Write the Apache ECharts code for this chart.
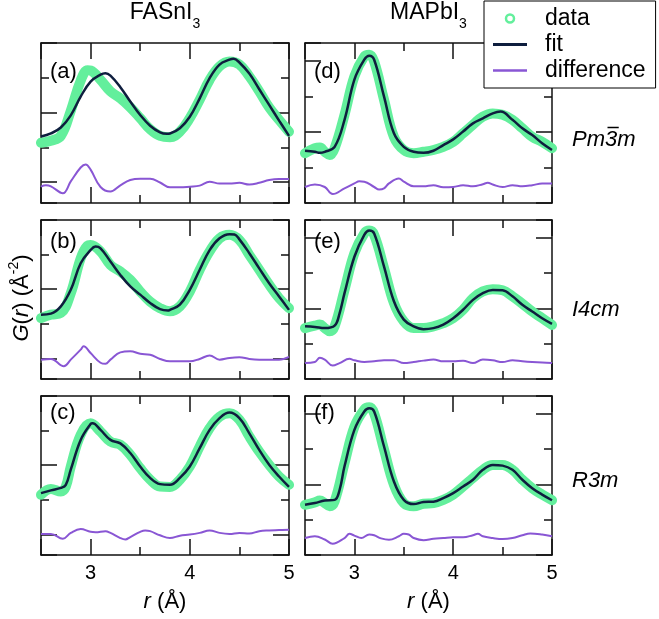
<!DOCTYPE html>
<html>
<head>
<meta charset="utf-8">
<script src="https://cdn.jsdelivr.net/npm/echarts@6.0.0/dist/echarts.min.js"></script>
<style>
html, body { margin: 0; padding: 0; background: #fff; }
#main { width: 659px; height: 619px; }
</style>
</head>
<body>
<div id="main"></div>
<script>
// G(r) curves, [r, G] pairs (arbitrary G units, 1 unit = one minor tick)
// FASnI3, Pm-3m
const dataA = [[2.5,1.13],[2.6,1.19],[2.7,1.33],[2.8,2.05],[2.9,2.92],[2.97,3.22],[3.0,3.21],[3.1,2.94],[3.2,2.61],[3.3,2.41],[3.4,2.15],[3.5,1.84],[3.6,1.52],[3.7,1.33],[3.8,1.29],[3.9,1.45],[4.0,1.84],[4.1,2.37],[4.2,2.94],[4.3,3.33],[4.4,3.47],[4.5,3.38],[4.6,3.04],[4.7,2.61],[4.8,2.15],[4.9,1.79],[5.0,1.45]];
const fitA = [[2.5,1.31],[2.6,1.40],[2.7,1.57],[2.8,1.92],[2.9,2.46],[3.0,2.89],[3.1,3.09],[3.15,3.13],[3.2,3.06],[3.3,2.73],[3.4,2.32],[3.5,1.93],[3.6,1.62],[3.7,1.43],[3.77,1.39],[3.8,1.40],[3.9,1.55],[4.0,1.88],[4.1,2.41],[4.2,2.99],[4.3,3.38],[4.4,3.52],[4.44,3.55],[4.5,3.44],[4.6,3.12],[4.7,2.67],[4.8,2.22],[4.9,1.77],[5.0,1.33]];
const diffA = [[2.5,-0.13],[2.55,-0.09],[2.6,-0.12],[2.72,-0.32],[2.8,0.02],[2.9,0.42],[2.95,0.51],[3.0,0.36],[3.1,-0.14],[3.2,-0.27],[3.3,-0.09],[3.4,0.06],[3.5,0.10],[3.6,0.10],[3.7,-0.01],[3.8,-0.15],[3.9,-0.15],[4.0,-0.13],[4.1,-0.10],[4.2,0.01],[4.3,-0.04],[4.4,-0.04],[4.5,-0.02],[4.6,-0.07],[4.7,-0.02],[4.8,0.06],[4.9,0.09],[5.0,0.09]];
// FASnI3, I4cm
const dataB = [[2.5,1.16],[2.6,1.26],[2.7,1.31],[2.8,1.88],[2.9,2.89],[2.97,3.26],[3.0,3.28],[3.1,3.09],[3.2,2.70],[3.3,2.51],[3.4,2.27],[3.5,1.93],[3.6,1.64],[3.7,1.45],[3.8,1.36],[3.9,1.50],[4.0,1.93],[4.1,2.56],[4.2,3.09],[4.3,3.47],[4.4,3.57],[4.5,3.42],[4.6,2.99],[4.7,2.56],[4.8,2.13],[4.9,1.74],[5.0,1.45]];
const fitB = [[2.5,1.26],[2.6,1.29],[2.7,1.50],[2.8,1.98],[2.9,2.75],[3.0,3.13],[3.05,3.23],[3.1,3.18],[3.2,2.80],[3.3,2.41],[3.4,2.08],[3.5,1.84],[3.6,1.60],[3.7,1.42],[3.78,1.38],[3.8,1.40],[3.9,1.55],[4.0,1.98],[4.1,2.56],[4.2,3.13],[4.3,3.47],[4.4,3.59],[4.45,3.58],[4.5,3.44],[4.6,3.04],[4.7,2.60],[4.8,2.17],[4.9,1.79],[5.0,1.40]];
const diffB = [[2.5,-0.04],[2.6,-0.02],[2.73,-0.23],[2.8,-0.04],[2.9,0.25],[2.93,0.35],[3.0,0.15],[3.1,-0.13],[3.15,-0.16],[3.2,-0.04],[3.3,0.17],[3.4,0.20],[3.5,0.13],[3.6,0.10],[3.7,-0.02],[3.8,-0.09],[3.9,-0.09],[4.0,-0.09],[4.1,-0.02],[4.2,0.08],[4.3,-0.04],[4.4,0.01],[4.5,0.03],[4.6,-0.02],[4.7,-0.04],[4.8,-0.04],[4.9,-0.04],[5.0,0.04]];
// FASnI3, R3m
const dataC = [[2.5,1.14],[2.6,1.31],[2.7,1.24],[2.75,1.38],[2.8,1.96],[2.9,2.88],[3.0,3.21],[3.1,2.97],[3.2,2.68],[3.3,2.59],[3.4,2.30],[3.5,1.91],[3.6,1.58],[3.7,1.38],[3.8,1.37],[3.9,1.58],[4.0,1.96],[4.1,2.54],[4.2,3.07],[4.3,3.40],[4.4,3.50],[4.5,3.31],[4.6,2.83],[4.7,2.39],[4.8,2.01],[4.9,1.67],[5.0,1.43]];
const fitC = [[2.5,1.19],[2.6,1.27],[2.7,1.34],[2.75,1.43],[2.8,1.87],[2.9,2.73],[3.0,3.19],[3.02,3.21],[3.1,3.02],[3.2,2.73],[3.3,2.63],[3.4,2.35],[3.5,1.96],[3.6,1.63],[3.7,1.45],[3.8,1.43],[3.9,1.63],[4.0,1.96],[4.1,2.49],[4.2,3.02],[4.3,3.36],[4.4,3.52],[4.5,3.36],[4.6,2.92],[4.7,2.44],[4.8,2.01],[4.9,1.67],[5.0,1.37]];
const diffC = [[2.5,0.01],[2.6,0.01],[2.72,-0.13],[2.8,0.04],[2.9,0.15],[3.0,0.07],[3.05,0.06],[3.15,0.09],[3.2,0.04],[3.3,-0.11],[3.35,-0.15],[3.4,-0.08],[3.5,0.07],[3.55,0.11],[3.6,0.09],[3.7,-0.03],[3.8,-0.11],[3.9,-0.04],[4.0,-0.01],[4.1,0.04],[4.2,0.11],[4.3,0.04],[4.4,0.01],[4.5,0.04],[4.6,0.02],[4.7,0.09],[4.8,0.11],[4.9,0.12],[5.0,0.13]];
// MAPbI3, Pm-3m
const dataD = [[2.5,1.40],[2.6,1.54],[2.65,1.56],[2.7,1.44],[2.75,1.35],[2.8,1.54],[2.9,2.48],[3.0,3.56],[3.1,4.12],[3.15,4.17],[3.2,3.98],[3.3,2.90],[3.4,1.86],[3.5,1.49],[3.6,1.40],[3.7,1.44],[3.8,1.49],[3.9,1.58],[4.0,1.72],[4.1,1.96],[4.2,2.20],[4.3,2.43],[4.4,2.52],[4.5,2.48],[4.6,2.34],[4.7,2.10],[4.8,1.86],[4.9,1.72],[5.0,1.54]];
const fitD = [[2.5,1.47],[2.6,1.44],[2.65,1.41],[2.7,1.44],[2.8,1.58],[2.9,2.34],[3.0,3.47],[3.1,4.03],[3.15,4.14],[3.2,4.03],[3.3,2.99],[3.4,1.96],[3.5,1.58],[3.6,1.44],[3.7,1.41],[3.8,1.47],[3.9,1.63],[4.0,1.79],[4.1,2.01],[4.2,2.24],[4.3,2.38],[4.4,2.52],[4.48,2.57],[4.6,2.34],[4.7,2.10],[4.8,1.91],[4.9,1.68],[5.0,1.49]];
const diffD = [[2.5,0.45],[2.6,0.52],[2.7,0.45],[2.78,0.25],[2.9,0.41],[3.0,0.55],[3.05,0.61],[3.1,0.60],[3.2,0.45],[3.25,0.38],[3.3,0.41],[3.35,0.55],[3.45,0.69],[3.5,0.60],[3.6,0.47],[3.7,0.47],[3.8,0.50],[3.9,0.44],[4.0,0.45],[4.1,0.50],[4.2,0.47],[4.3,0.53],[4.35,0.57],[4.4,0.52],[4.5,0.45],[4.6,0.50],[4.7,0.47],[4.8,0.50],[4.9,0.55],[5.0,0.55]];
// MAPbI3, I4cm
const dataE = [[2.5,1.44],[2.6,1.51],[2.65,1.54],[2.7,1.44],[2.75,1.35],[2.8,1.49],[2.9,2.52],[3.0,3.56],[3.1,4.12],[3.15,4.20],[3.2,4.08],[3.3,3.14],[3.4,2.15],[3.5,1.63],[3.6,1.44],[3.7,1.44],[3.8,1.49],[3.9,1.58],[4.0,1.72],[4.1,1.96],[4.2,2.29],[4.3,2.48],[4.4,2.54],[4.5,2.51],[4.6,2.34],[4.7,2.13],[4.8,1.91],[4.9,1.72],[5.0,1.53]];
const fitE = [[2.5,1.49],[2.6,1.47],[2.7,1.44],[2.8,1.51],[2.85,1.86],[2.9,2.43],[3.0,3.46],[3.1,4.08],[3.15,4.20],[3.2,4.12],[3.3,3.18],[3.4,2.20],[3.5,1.68],[3.6,1.49],[3.7,1.41],[3.8,1.44],[3.9,1.54],[4.0,1.72],[4.1,1.96],[4.2,2.24],[4.3,2.43],[4.4,2.52],[4.5,2.51],[4.6,2.34],[4.7,2.10],[4.8,1.91],[4.9,1.72],[5.0,1.56]];
const diffE = [[2.5,0.45],[2.6,0.48],[2.65,0.60],[2.7,0.55],[2.78,0.38],[2.85,0.45],[2.95,0.57],[3.0,0.53],[3.1,0.48],[3.2,0.50],[3.3,0.53],[3.4,0.53],[3.5,0.45],[3.6,0.48],[3.7,0.52],[3.8,0.55],[3.9,0.50],[4.0,0.50],[4.1,0.52],[4.2,0.45],[4.3,0.55],[4.4,0.53],[4.5,0.48],[4.6,0.53],[4.7,0.50],[4.8,0.48],[4.9,0.47],[5.0,0.45]];
// MAPbI3, R3m
const dataF = [[2.5,1.42],[2.6,1.49],[2.65,1.54],[2.7,1.47],[2.75,1.38],[2.8,1.52],[2.9,2.60],[3.0,3.63],[3.1,4.12],[3.15,4.18],[3.2,4.01],[3.3,2.98],[3.4,1.99],[3.5,1.47],[3.6,1.38],[3.7,1.45],[3.8,1.47],[3.9,1.56],[4.0,1.71],[4.1,1.94],[4.2,2.18],[4.3,2.41],[4.4,2.55],[4.5,2.55],[4.6,2.41],[4.7,2.13],[4.8,1.89],[4.9,1.71],[5.0,1.55]];
const fitF = [[2.5,1.42],[2.6,1.47],[2.7,1.54],[2.8,1.56],[2.85,1.84],[2.9,2.51],[3.0,3.54],[3.1,4.06],[3.15,4.15],[3.2,4.06],[3.3,3.07],[3.4,2.08],[3.5,1.56],[3.6,1.44],[3.7,1.50],[3.8,1.51],[3.9,1.61],[4.0,1.75],[4.1,1.94],[4.2,2.13],[4.3,2.41],[4.4,2.55],[4.5,2.53],[4.6,2.41],[4.7,2.13],[4.8,1.89],[4.9,1.71],[5.0,1.55]];
const diffF = [[2.5,0.48],[2.6,0.53],[2.7,0.44],[2.78,0.32],[2.9,0.48],[2.95,0.60],[3.0,0.55],[3.07,0.48],[3.15,0.58],[3.2,0.56],[3.27,0.47],[3.35,0.43],[3.45,0.53],[3.5,0.60],[3.55,0.58],[3.6,0.48],[3.7,0.42],[3.8,0.46],[3.9,0.48],[4.0,0.50],[4.1,0.50],[4.2,0.56],[4.25,0.60],[4.3,0.53],[4.4,0.48],[4.5,0.45],[4.6,0.48],[4.7,0.56],[4.78,0.61],[4.9,0.58],[5.0,0.53]];

const panelLetters = ['(a)', '(b)', '(c)', '(d)', '(e)', '(f)'];
const columnTitles = ['FASnI', 'MAPbI'];
const spaceGroups = ['Pm3m', 'I4cm', 'R3m'];
const rRange = [2.5, 5];
const gRange = [[-0.6, 4], [0, 4.5]];   // left column, right column

const FONT = '"Liberation Sans", Arial, Helvetica, sans-serif';
const INK = '#111';
const GREEN = '#63ef9c';
const NAVY = '#0e1e3e';
const PURPLE = '#8956d4';

const colLeft = [41, 305], colWidth = [248, 247];
const rowTop = [43, 220, 396], rowHeight = [160, 159, 159];
const letterY = [72, 242, 413];

const panels = [
  {col: 0, row: 0, data: dataA, fit: fitA, diff: diffA},
  {col: 0, row: 1, data: dataB, fit: fitB, diff: diffB},
  {col: 0, row: 2, data: dataC, fit: fitC, diff: diffC},
  {col: 1, row: 0, data: dataD, fit: fitD, diff: diffD},
  {col: 1, row: 1, data: dataE, fit: fitE, diff: diffE},
  {col: 1, row: 2, data: dataF, fit: fitF, diff: diffF},
];

const lineW = {color: INK, width: 1.5};
const grid = [], xAxis = [], yAxis = [], series = [];

panels.forEach((p, g) => {
  grid.push({left: colLeft[p.col], top: rowTop[p.row], width: colWidth[p.col], height: rowHeight[p.row]});
  ['bottom', 'top'].forEach(pos => {
    const labelled = pos === 'bottom' && p.row === 2;
    xAxis.push({
      type: 'value', gridIndex: g, position: pos,
      min: rRange[0], max: rRange[1], minInterval: 1, maxInterval: 1,
      axisLine: {show: true, onZero: false, lineStyle: lineW},
      axisTick: {show: true, inside: true, length: 16, lineStyle: lineW},
      minorTick: {show: true, splitNumber: 2, length: 8, lineStyle: lineW},
      splitLine: {show: false},
      axisLabel: {show: labelled, showMinLabel: false, margin: 8, fontSize: 20, color: '#000', fontFamily: FONT},
      name: labelled ? '{i|r} (Å)' : '',
      nameLocation: 'middle', nameGap: 36,
      nameTextStyle: {fontSize: 22, color: '#000', fontFamily: FONT,
        rich: {i: {fontStyle: 'italic', fontSize: 22, fontFamily: FONT, color: '#000'}}}
    });
  });
  ['left', 'right'].forEach(pos => {
    yAxis.push({
      type: 'value', gridIndex: g, position: pos,
      min: gRange[p.col][0], max: gRange[p.col][1], minInterval: 2, maxInterval: 2,
      axisLine: {show: true, onZero: false, lineStyle: lineW},
      axisTick: {show: true, inside: true, length: 16, lineStyle: lineW},
      minorTick: {show: true, splitNumber: 2, length: 8, lineStyle: lineW},
      splitLine: {show: false},
      axisLabel: {show: false}
    });
  });
  const common = {type: 'line', xAxisIndex: 2 * g, yAxisIndex: 2 * g, symbol: 'none', smooth: 0.4, animation: false};
  series.push(Object.assign({}, common, {name: 'data', data: p.data, clip: false, z: 2,
    itemStyle: {color: GREEN}, lineStyle: {color: GREEN, width: 10, cap: 'round', join: 'round'}}));
  series.push(Object.assign({}, common, {name: 'fit', data: p.fit, z: 3,
    itemStyle: {color: NAVY}, lineStyle: {color: NAVY, width: 2.5}}));
  series.push(Object.assign({}, common, {name: 'difference', data: p.diff, z: 3,
    itemStyle: {color: PURPLE}, lineStyle: {color: PURPLE, width: 2}}));
});

// measure italic text so the bar over the 3 in Pm3m sits on the digit
const ctx = document.createElement('canvas').getContext('2d');
ctx.font = 'italic 22px "Liberation Sans"';
const wPm = ctx.measureText('Pm').width;
const w3 = ctx.measureText('3').width;

const graphic = [];
columnTitles.forEach((t, c) => {
  graphic.push({
    type: 'text', x: colLeft[c] + colWidth[c] / 2, y: -5, z: 10,
    style: {
      text: '{m|' + t + '}{s|3}', align: 'center', verticalAlign: 'top',
      rich: {
        m: {fontSize: 23, lineHeight: 36, fontFamily: FONT, fill: '#000'},
        s: {fontSize: 14, lineHeight: 14, verticalAlign: 'bottom', fontFamily: FONT, fill: '#000'}
      }
    }
  });
});
panels.forEach((p, g) => {
  graphic.push({
    type: 'text', x: colLeft[p.col] + 9, y: letterY[p.row], z: 10,
    style: {text: panelLetters[g], fontSize: 22, fontFamily: FONT, fill: '#000', align: 'left', verticalAlign: 'middle'}
  });
});
const sgY = [140, 310, 481];
spaceGroups.forEach((t, i) => {
  graphic.push({
    type: 'text', x: 572, y: sgY[i], z: 10,
    style: {text: t, fontSize: 22, fontStyle: 'italic', fontFamily: FONT, fill: '#000', align: 'left', verticalAlign: 'middle'}
  });
});
graphic.push({
  type: 'line', z: 10,
  shape: {x1: 572 + wPm + 2.5, y1: 127.5, x2: 572 + wPm + w3 + 1.5, y2: 127.5},
  style: {stroke: '#000', lineWidth: 1.5}
});
graphic.push({
  type: 'text', x: 22, y: 298, rotation: Math.PI / 2, z: 10,
  style: {
    text: '{i|G}({i|r}) (Å{p|-2})', align: 'center', verticalAlign: 'middle',
    fontSize: 22, lineHeight: 30, fontFamily: FONT, fill: '#000',
    rich: {
      i: {fontStyle: 'italic', fontSize: 22, lineHeight: 30, fontFamily: FONT, fill: '#000'},
      p: {fontSize: 14, lineHeight: 14, verticalAlign: 'top', fontFamily: FONT, fill: '#000'}
    }
  }
});

const chart = echarts.init(document.getElementById('main'), null, {renderer: 'canvas'});
chart.setOption({
  animation: false,
  backgroundColor: '#fff',
  grid: grid,
  xAxis: xAxis,
  yAxis: yAxis,
  series: series,
  legend: {
    orient: 'vertical', left: 484, top: 1, z: 20,
    backgroundColor: '#fff', borderColor: '#000', borderWidth: 1,
    padding: [6, 10, 6, 9], itemWidth: 34, itemHeight: 8, itemGap: 3,
    selectedMode: false,
    textStyle: {fontSize: 23, color: '#000', fontFamily: FONT, padding: [0, 0, 0, 13]},
    data: [
      {name: 'data', icon: 'circle', itemStyle: {color: '#fff', borderColor: GREEN, borderWidth: 2.5}},
      {name: 'fit', icon: 'path://M0,0L34,0L34,3L0,3Z', itemStyle: {color: NAVY, borderWidth: 0}},
      {name: 'difference', icon: 'path://M0,0L34,0L34,2.5L0,2.5Z', itemStyle: {color: PURPLE, borderWidth: 0}}
    ]
  },
  graphic: graphic
});
</script>
</body>
</html>
